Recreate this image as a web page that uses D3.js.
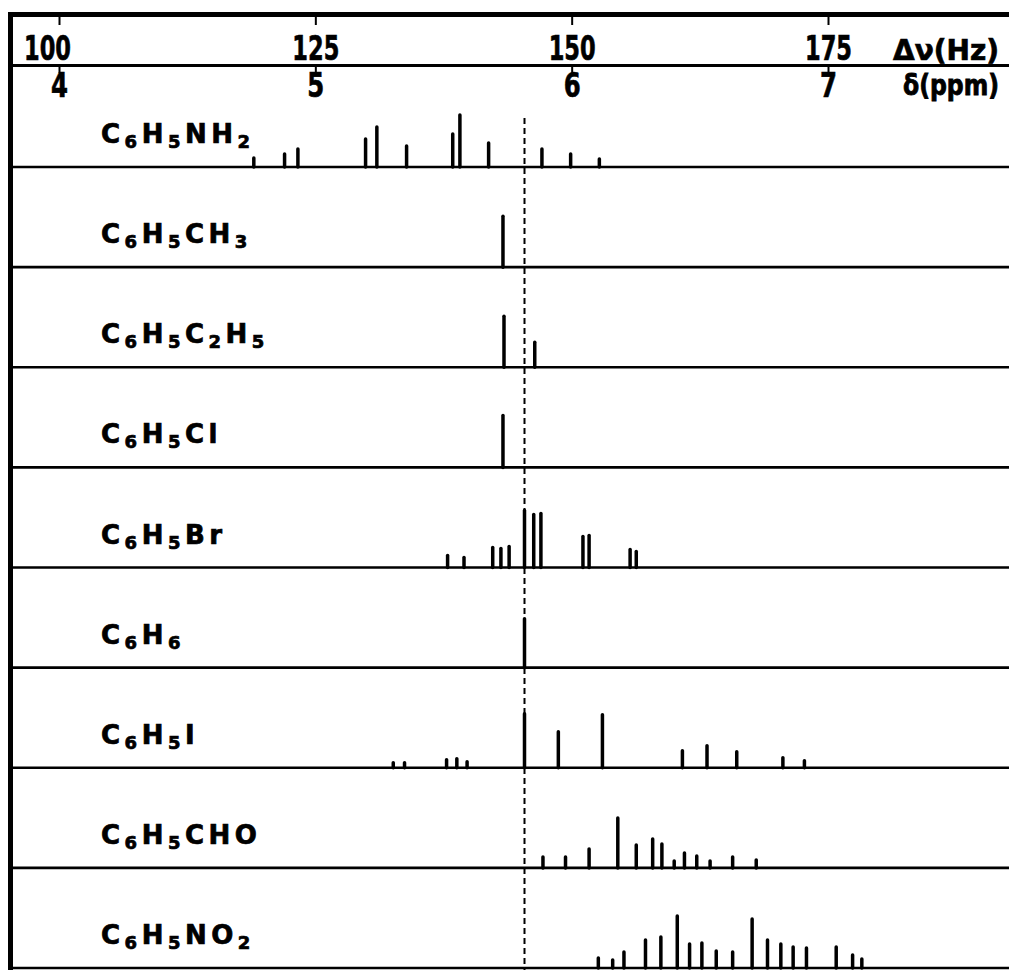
<!DOCTYPE html>
<html>
<head>
<meta charset="utf-8">
<script src="https://cdn.jsdelivr.net/npm/d3@7"></script>
<style>
  body { margin: 0; background: #fff; }
  svg { display: block; }
  text { font-family: "DejaVu Sans", sans-serif; font-weight: bold; fill: #000; stroke: #000; stroke-width: 0.7px; }
</style>
</head>
<body>
<div id="chart"></div>
<script>
// Stick spectra of monosubstituted benzenes, shifts in Hz (and ppm)

const compounds = ['C6H5NH2', 'C6H5CH3', 'C6H5C2H5', 'C6H5Cl', 'C6H5Br', 'C6H6', 'C6H5I', 'C6H5CHO', 'C6H5NO2'];
const hzTicks = [100, 125, 150, 175];
const ppmTicks = [4, 5, 6, 7];
const refHz = 145.4; // benzene line, dashed reference

// line positions (Hz) and relative intensities, one array per compound
const nh2Hz = [119.0, 122.0, 123.3, 129.9, 131.0, 133.9, 138.4, 139.1, 141.9, 147.1, 149.9, 152.7];
const nh2Int = [9, 13, 18, 28, 40, 21, 33, 52, 24, 18, 13, 8];
const ch3Hz = [143.3];
const ch3Int = [51];
const c2h5Hz = [143.4, 146.4];
const c2h5Int = [51, 25];
const clHz = [143.3];
const clInt = [52];
const brHz = [137.9, 139.5, 142.3, 143.1, 143.9, 145.4, 146.3, 147.0, 151.1, 151.7, 155.7, 156.3];
const brInt = [12, 10, 20, 19, 21, 57, 53, 54, 31, 32, 18, 16];
const benzHz = [145.4];
const benzInt = [49];
const iHz = [132.6, 133.7, 137.8, 138.8, 139.8, 145.4, 148.7, 153.0, 160.8, 163.2, 166.1, 170.6, 172.7];
const iInt = [5, 5, 8, 9, 6, 54, 36, 53, 17, 22, 16, 10, 7];
const choHz = [147.2, 149.4, 151.7, 154.5, 156.3, 157.9, 158.8, 160.0, 161.0, 162.2, 163.5, 165.7, 168.0];
const choInt = [11, 11, 19, 50, 23, 29, 24, 7, 15, 12, 7, 11, 8];
const no2Hz = [152.6, 154.0, 155.1, 157.2, 158.7, 160.3, 161.5, 162.7, 164.1, 165.7, 167.6, 169.1, 170.4, 171.6, 172.9, 175.8, 177.4, 178.3];
const no2Int = [10, 8, 16, 28, 31, 52, 24, 25, 17, 16, 49, 28, 24, 21, 20, 21, 13, 9];

const lineHz = [nh2Hz, ch3Hz, c2h5Hz, clHz, brHz, benzHz, iHz, choHz, no2Hz];
const lineInt = [nh2Int, ch3Int, c2h5Int, clInt, brInt, benzInt, iInt, choInt, no2Int];

const width = 1009, height = 970;

const svg = d3.select('#chart').append('svg')
    .attr('width', width)
    .attr('height', height);

// Scales
const x = d3.scaleLinear().domain([100, 175]).range([59, 828]);
const ppm = d3.scaleLinear().domain([4, 7]).range(x.range());
const rowY = d3.scaleLinear().domain([0, compounds.length - 1]).range([167, 968]);
const h = d3.scaleLinear().domain([0, 100]).range([0, 100]);

// Frame
svg.append('line')
    .attr('x1', 8).attr('x2', width).attr('y1', 14.5).attr('y2', 14.5)
    .attr('stroke', '#000').attr('stroke-width', 5);
svg.append('line')
    .attr('x1', 10.5).attr('x2', 10.5).attr('y1', 12).attr('y2', height)
    .attr('stroke', '#000').attr('stroke-width', 5);
svg.append('line')
    .attr('x1', 10).attr('x2', width).attr('y1', 65.5).attr('y2', 65.5)
    .attr('stroke', '#000').attr('stroke-width', 3);

// Hz axis
svg.append('g')
    .attr('transform', 'translate(0,17)')
    .call(d3.axisBottom(x).tickValues(hzTicks).tickSize(8).tickFormat(d3.format('d')))
    .call(g => g.select('.domain').remove())
    .call(g => g.selectAll('line').attr('stroke-width', 2))
    .call(g => g.selectAll('text')
        .attr('y', 43).attr('dy', 0)
        .attr('dx', d => d === 100 ? -12 : 0)
        .attr('font-size', 34)
        .attr('textLength', 47)
        .attr('lengthAdjust', 'spacingAndGlyphs'));

// ppm axis
svg.append('g')
    .attr('transform', 'translate(0,66)')
    .call(d3.axisBottom(ppm).tickValues(ppmTicks).tickSize(7).tickFormat(d3.format('d')))
    .call(g => g.select('.domain').remove())
    .call(g => g.selectAll('line').attr('stroke-width', 2))
    .call(g => g.selectAll('text')
        .attr('y', 31).attr('dy', 0)
        .attr('font-size', 34)
        .attr('textLength', 17)
        .attr('lengthAdjust', 'spacingAndGlyphs'));

// Unit labels
svg.append('text')
    .attr('x', 893).attr('y', 60)
    .attr('font-size', 28)
    .attr('textLength', 106)
    .attr('lengthAdjust', 'spacingAndGlyphs')
    .text('Δν(Hz)');
svg.append('text')
    .attr('transform', 'translate(903,95) scale(1,1.3)')
    .attr('font-size', 22)
    .attr('textLength', 96)
    .attr('lengthAdjust', 'spacingAndGlyphs')
    .text('δ(ppm)');

// Sticks
lineHz.forEach((hzs, i) => {
    const base = rowY(i);
    svg.append('g')
        .selectAll('line')
        .data(hzs.map((v, j) => ({ hz: v, val: lineInt[i][j] })))
        .join('line')
        .attr('x1', d => x(d.hz))
        .attr('x2', d => x(d.hz))
        .attr('y1', base)
        .attr('y2', d => base - h(d.val))
        .attr('stroke', '#000')
        .attr('stroke-width', 3.5)
        .attr('stroke-linecap', 'round');
});

// Row baselines
svg.append('g')
    .selectAll('line')
    .data(compounds)
    .join('line')
    .attr('x1', 10)
    .attr('x2', width)
    .attr('y1', (d, i) => rowY(i))
    .attr('y2', (d, i) => rowY(i))
    .attr('stroke', '#000')
    .attr('stroke-width', 2.7);

// Dashed benzene reference
svg.append('line')
    .attr('x1', x(refHz)).attr('x2', x(refHz))
    .attr('y1', 118).attr('y2', height)
    .attr('stroke', '#000')
    .attr('stroke-width', 2)
    .attr('stroke-dasharray', '6 4');

// Compound labels, digits as subscripts
compounds.forEach((name, i) => {
    const t = svg.append('text')
        .attr('x', 101)
        .attr('y', rowY(i) - 24)
        .attr('font-size', 26)
        .attr('letter-spacing', 4.5);
    let sub = false;
    name.match(/[A-Za-z]+|\d+/g).forEach(p => {
        const isNum = /\d/.test(p);
        t.append('tspan')
            .attr('font-size', isNum ? 18 : 26)
            .attr('dy', isNum ? 5 : (sub ? -5 : 0))
            .text(p);
        sub = isNum;
    });
});
</script>
</body>
</html>
